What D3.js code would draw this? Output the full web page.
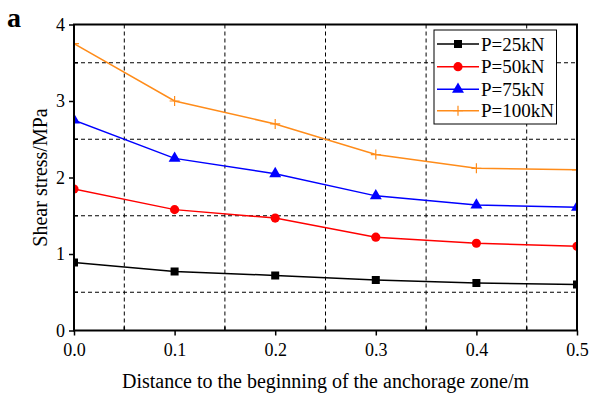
<!DOCTYPE html>
<html><head><meta charset="utf-8">
<script src="https://cdnjs.cloudflare.com/ajax/libs/d3/7.8.5/d3.min.js"></script>
<style>body{margin:0;background:#fff}svg{display:block;font-family:"Liberation Serif","Times New Roman",serif}</style>
</head><body><svg id="chart"></svg>
<script>
var xs = [0, 0.1, 0.2, 0.3, 0.4, 0.5];
var names = ["P=25kN", "P=50kN", "P=75kN", "P=100kN"];
var p25 = [0.89, 0.77, 0.72, 0.66, 0.62, 0.60];
var p50 = [1.85, 1.58, 1.47, 1.22, 1.14, 1.10];
var p75 = [2.75, 2.25, 2.05, 1.76, 1.64, 1.61];
var p100 = [3.75, 3.00, 2.70, 2.30, 2.12, 2.10];
var xTicks = [0, 0.1, 0.2, 0.3, 0.4, 0.5];
var yTicks = [0, 1, 2, 3, 4];
var xMinor = [0.05, 0.15, 0.25, 0.35, 0.45];
var yMinor = [0.5, 1.5, 2.5, 3.5];

var colors = ["#000000", "#ff0000", "#0000ff", "#ff8c1a"];
var symbols = [d3.symbolSquare, d3.symbolCircle, d3.symbolTriangle, null];
var sizes = [64, 66, 62, 0];
var series = [p25, p50, p75, p100];

var W = 591, H = 398;
var L = 74, R = 577, T = 24.5, B = 330.5;
var svg = d3.select("#chart").attr("width", W).attr("height", H);

var x = d3.scaleLinear().domain([0, 0.5]).range([L, R]);
var y = d3.scaleLinear().domain([0, 4]).range([B, T]);

// dashed grid at minor positions
svg.selectAll(".gx").data(xMinor).enter().append("line")
  .attr("x1", d => x(d)).attr("x2", d => x(d)).attr("y1", T).attr("y2", B)
  .attr("stroke", "#000").attr("stroke-width", 1).attr("stroke-dasharray", "4,3");
svg.selectAll(".gy").data(yMinor).enter().append("line")
  .attr("y1", d => y(d)).attr("y2", d => y(d)).attr("x1", L).attr("x2", R)
  .attr("stroke", "#000").attr("stroke-width", 1).attr("stroke-dasharray", "4,3");

svg.append("clipPath").attr("id", "clip").append("rect")
  .attr("x", L).attr("y", T).attr("width", R - L).attr("height", B - T);

var line = d3.line().x((d, i) => x(xs[i])).y(d => y(d));
var plot = svg.append("g").attr("clip-path", "url(#clip)");

series.forEach(function(s, k) {
  plot.append("path").datum(s).attr("d", line).attr("fill", "none")
    .attr("stroke", colors[k]).attr("stroke-width", 1.5);
  s.forEach(function(v, i) {
    drawMarker(plot, k, x(xs[i]), y(v));
  });
});

function drawMarker(g, k, cx, cy) {
  if (symbols[k]) {
    g.append("path").attr("d", d3.symbol().type(symbols[k]).size(sizes[k])())
      .attr("transform", "translate(" + cx + "," + cy + ")").attr("fill", colors[k]);
  } else {
    g.append("path").attr("d", "M" + (cx - 5) + "," + cy + "H" + (cx + 5) + "M" + cx + "," + (cy - 5) + "V" + (cy + 5))
      .attr("stroke", colors[k]).attr("stroke-width", 1.2);
  }
}

// axes
var xAxis = d3.axisBottom(x).tickValues(xTicks).tickFormat(d3.format(".1f")).tickSize(5).tickSizeOuter(0);
var yAxis = d3.axisLeft(y).tickValues(yTicks).tickFormat(d3.format("d")).tickSize(5).tickSizeOuter(0);
var gx = svg.append("g").attr("transform", "translate(0," + B + ")").call(xAxis);
var gy = svg.append("g").attr("transform", "translate(" + L + ",0)").call(yAxis);
[gx, gy].forEach(function(g) {
  g.select(".domain").remove();
  g.selectAll("line").attr("stroke", "#000").attr("stroke-width", 1.5);
  g.selectAll("text").attr("font-size", 18).attr("fill", "#000").attr("font-family", "Liberation Serif");
});
gx.selectAll("text").attr("dy", "0.95em");
gy.selectAll("text").attr("dx", "-0.05em");

// minor ticks inward
svg.selectAll(".mx").data(xMinor).enter().append("line")
  .attr("x1", d => x(d)).attr("x2", d => x(d)).attr("y1", B).attr("y2", B - 4)
  .attr("stroke", "#000").attr("stroke-width", 1.5);
svg.selectAll(".my").data(yMinor).enter().append("line")
  .attr("y1", d => y(d)).attr("y2", d => y(d)).attr("x1", L).attr("x2", L + 4)
  .attr("stroke", "#000").attr("stroke-width", 1.5);

// frame
svg.append("rect").attr("x", L).attr("y", T).attr("width", R - L).attr("height", B - T)
  .attr("fill", "none").attr("stroke", "#000").attr("stroke-width", 2);

// axis titles
svg.append("text").attr("x", (L + R) / 2).attr("y", 388).attr("text-anchor", "middle")
  .attr("font-size", 20).text("Distance to the beginning of the anchorage zone/m");
svg.append("text").attr("transform", "translate(47," + ((T + B) / 2) + ") rotate(-90)")
  .attr("text-anchor", "middle").attr("font-size", 20).text("Shear stress/MPa");
svg.append("text").attr("x", 7).attr("y", 27).attr("font-size", 28).attr("font-weight", "bold").text("a");

// legend
var lg = svg.append("g");
lg.append("rect").attr("x", 434).attr("y", 30).attr("width", 122.5).attr("height", 94)
  .attr("fill", "#fff").attr("stroke", "#000").attr("stroke-width", 1);
var ly = [44, 66.7, 89.3, 110.7];
names.forEach(function(n, k) {
  lg.append("line").attr("x1", 437).attr("x2", 479).attr("y1", ly[k]).attr("y2", ly[k])
    .attr("stroke", colors[k]).attr("stroke-width", 1.5);
  drawMarker(lg, k, 458, ly[k]);
  lg.append("text").attr("x", 481).attr("y", ly[k] + 6.5).attr("font-size", 19).text(n);
});
</script></body></html>
